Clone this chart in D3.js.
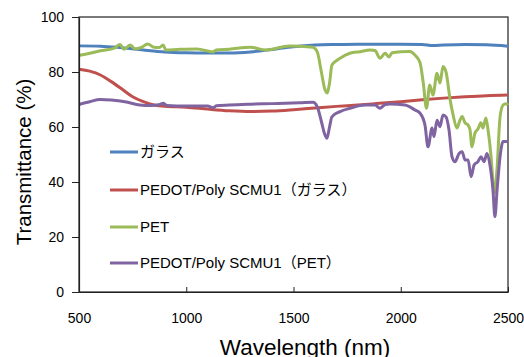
<!DOCTYPE html>
<html>
<head>
<meta charset="utf-8">
<script src="https://cdn.jsdelivr.net/npm/d3@7"></script>
<style>
  body { margin: 0; background: #fff; }
  svg text { font-family: "Liberation Sans", Arial, "Noto Sans CJK JP", sans-serif; fill: #000; }
</style>
</head>
<body>
<div id="chart"></div>
<script>
// series names, in legend order
const seriesNames = ["ガラス", "PEDOT/Poly SCMU1（ガラス）", "PET", "PEDOT/Poly SCMU1（PET）"];
const seriesColors = ["#4F81BD", "#C0504D", "#9BBB59", "#8064A2"];

const xTicks = [500, 1000, 1500, 2000, 2500];
const yTicks = [0, 20, 40, 60, 80, 100];

// ガラス
const glassWl = [500, 600, 700, 800, 900, 1000, 1100, 1200, 1300, 1400, 1500, 1600, 1700, 1800, 1900, 2000, 2100, 2150, 2200, 2300, 2400, 2500];
const glassT  = [89.5, 89.4, 88.8, 88.0, 87.3, 87.0, 86.9, 86.9, 87.3, 88.2, 89.2, 89.8, 90.0, 90.1, 90.1, 90.1, 90.0, 89.6, 89.8, 90.0, 89.9, 89.4];

// PEDOT/Poly SCMU1 on glass
const pedotGlassWl = [500, 550, 600, 650, 700, 750, 800, 850, 900, 1000, 1100, 1200, 1300, 1400, 1500, 1600, 1700, 1800, 1900, 2000, 2100, 2200, 2300, 2400, 2500];
const pedotGlassT  = [81.0, 80.3, 78.9, 76.5, 73.8, 71.0, 69.2, 68.0, 67.5, 67.2, 66.5, 65.9, 65.6, 65.8, 66.3, 66.9, 67.5, 68.0, 68.6, 69.2, 69.9, 70.5, 71.0, 71.4, 71.6];

// PET
const petWl = [500, 550, 600, 668, 691, 710, 740, 760, 790, 820, 850, 875, 892, 905, 960, 1050, 1125, 1140, 1200, 1300, 1370, 1480, 1590, 1610, 1630, 1645, 1656, 1668, 1679, 1693, 1717, 1763, 1810, 1857, 1880, 1903, 1927, 1945, 1960, 2000, 2043, 2066, 2090, 2105, 2120, 2135, 2150, 2169, 2183, 2197, 2211, 2230, 2244, 2262, 2276, 2286, 2300, 2314, 2323, 2332, 2346, 2360, 2374, 2383, 2397, 2407, 2421, 2430, 2437, 2449, 2463, 2477, 2490, 2500];
const petT  = [86.0, 86.8, 87.7, 88.8, 90.0, 88.3, 89.8, 88.4, 88.9, 90.2, 89.0, 88.9, 89.8, 88.0, 88.2, 88.4, 87.3, 88.0, 88.3, 89.0, 88.0, 89.5, 89.0, 87.5, 80.0, 74.0, 72.4, 76.0, 82.5, 83.7, 85.0, 86.8, 87.4, 88.0, 87.8, 85.0, 86.8, 85.5, 87.0, 87.4, 87.5, 86.2, 83.4, 76.0, 66.8, 75.3, 71.6, 79.5, 76.0, 82.0, 80.0, 70.0, 64.4, 59.6, 62.5, 63.8, 61.5, 60.7, 58.9, 52.8, 57.8, 59.3, 61.5, 59.6, 63.3, 58.9, 49.2, 40.0, 36.0, 45.0, 63.7, 68.0, 68.5, 68.0];

// PEDOT/Poly SCMU1 on PET
const pedotPetWl = [500, 550, 598, 650, 714, 784, 831, 878, 892, 910, 1000, 1100, 1125, 1140, 1200, 1300, 1400, 1530, 1591, 1610, 1630, 1645, 1656, 1668, 1679, 1717, 1763, 1833, 1880, 1903, 1927, 1950, 2020, 2066, 2090, 2113, 2127, 2146, 2155, 2169, 2183, 2197, 2211, 2225, 2239, 2253, 2272, 2286, 2300, 2314, 2328, 2342, 2360, 2374, 2388, 2402, 2416, 2430, 2439, 2449, 2463, 2477, 2500];
const pedotPetT  = [68.2, 69.2, 70.0, 69.8, 69.2, 68.0, 67.8, 68.2, 68.6, 67.8, 67.6, 67.6, 67.0, 67.7, 68.0, 68.3, 68.5, 68.8, 69.0, 67.5, 62.0, 57.5, 55.9, 60.0, 63.7, 65.6, 66.8, 68.0, 68.0, 66.8, 68.2, 68.4, 68.0, 66.2, 65.0, 60.7, 52.8, 59.6, 56.5, 62.5, 60.1, 64.4, 63.7, 58.9, 49.2, 47.4, 50.4, 51.0, 48.0, 48.0, 41.9, 46.2, 47.4, 49.2, 47.4, 50.4, 46.2, 37.0, 27.4, 37.0, 49.2, 54.7, 54.7];

const seriesWl = [glassWl, pedotGlassWl, petWl, pedotPetWl];
const seriesT = [glassT, pedotGlassT, petT, pedotPetT];

const width = 524, height = 357;
const plot = { left: 79, right: 508, top: 17, bottom: 292 };

const svg = d3.select("#chart").append("svg")
  .attr("width", width)
  .attr("height", height);

const x = d3.scaleLinear().domain([500, 2500]).range([plot.left, plot.right]);
const y = d3.scaleLinear().domain([0, 100]).range([plot.bottom, plot.top]);

// plot frame
svg.append("rect")
  .attr("x", plot.left)
  .attr("y", plot.top)
  .attr("width", plot.right - plot.left)
  .attr("height", plot.bottom - plot.top)
  .attr("fill", "none")
  .attr("stroke", "#222")
  .attr("stroke-width", 1.2);

const line = d3.line()
  .x(d => x(d[0]))
  .y(d => y(d[1]))
  .curve(d3.curveMonotoneX);

seriesNames.forEach((name, i) => {
  const pts = seriesWl[i].map((w, j) => [w, seriesT[i][j]]);
  svg.append("path")
    .attr("d", line(pts))
    .attr("fill", "none")
    .attr("stroke", seriesColors[i])
    .attr("stroke-width", 3)
    .attr("stroke-linejoin", "round");
});

// x axis, ticks pointing inwards
const xAxis = svg.append("g")
  .attr("transform", "translate(0," + plot.bottom + ")")
  .call(d3.axisBottom(x).tickValues(xTicks).tickFormat(d3.format("d"))
    .tickSizeInner(-5).tickSizeOuter(0).tickPadding(21));
xAxis.select(".domain").attr("stroke", "#222").attr("stroke-width", 1.2);
xAxis.selectAll(".tick line").attr("stroke", "#222");
xAxis.selectAll("text").style("font-size", "14px");

// y axis, ticks outside
const yAxis = svg.append("g")
  .attr("transform", "translate(" + plot.left + ",0)")
  .call(d3.axisLeft(y).tickValues(yTicks).tickSizeInner(7).tickSizeOuter(0).tickPadding(8));
yAxis.select(".domain").attr("stroke", "#222").attr("stroke-width", 1.2);
yAxis.selectAll(".tick line").attr("stroke", "#222");
yAxis.selectAll("text").style("font-size", "14px");

// axis titles
svg.append("text")
  .attr("transform", "translate(31,162) rotate(-90)")
  .attr("text-anchor", "middle")
  .style("font-size", "20.5px")
  .text("Transmittance (%)");

svg.append("text")
  .attr("x", 305)
  .attr("y", 355)
  .attr("text-anchor", "middle")
  .style("font-size", "22.5px")
  .text("Wavelength (nm)");

// legend
const legendY = [152, 190, 227, 263];
const legend = svg.append("g");
seriesNames.forEach((name, i) => {
  legend.append("line")
    .attr("x1", 110).attr("x2", 138)
    .attr("y1", legendY[i]).attr("y2", legendY[i])
    .attr("stroke", seriesColors[i])
    .attr("stroke-width", 3);
  legend.append("text")
    .attr("x", 140)
    .attr("y", legendY[i])
    .attr("dy", "0.36em")
    .style("font-size", "15px")
    .text(name);
});
</script>
</body>
</html>
